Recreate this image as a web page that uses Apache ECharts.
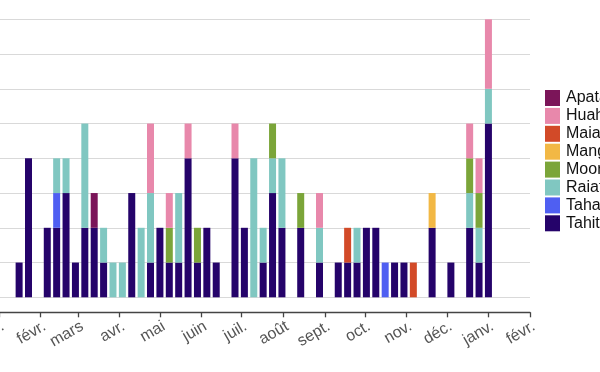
<!DOCTYPE html>
<html>
<head>
<meta charset="utf-8">
<script src="https://cdn.jsdelivr.net/npm/echarts@6/dist/echarts.min.js"></script>
<style>html,body{margin:0;padding:0;background:#fff}#c{width:600px;height:372px}</style>
</head>
<body>
<div id="c"></div>
<script>
const weeks = ['2017-01-16','2017-01-23','2017-01-30','2017-02-06','2017-02-13','2017-02-20','2017-02-27',
'2017-03-06','2017-03-13','2017-03-20','2017-03-27','2017-04-03','2017-04-10','2017-04-17','2017-04-24',
'2017-05-01','2017-05-08','2017-05-15','2017-05-22','2017-05-29','2017-06-05','2017-06-12','2017-06-19','2017-06-26',
'2017-07-03','2017-07-10','2017-07-17','2017-07-24','2017-07-31','2017-08-07','2017-08-14','2017-08-21','2017-08-28',
'2017-09-04','2017-09-11','2017-09-18','2017-09-25','2017-10-02','2017-10-09','2017-10-16','2017-10-23','2017-10-30',
'2017-11-06','2017-11-13','2017-11-20','2017-11-27','2017-12-04','2017-12-11','2017-12-18','2017-12-25','2018-01-01'];

const tahiti    = [1,4,0,2,2,3,1,2,2,1,0,0,3,0,1,2,1,1,4,1,2,1,0,4,2,0,1,3,2,0,2,0,1,0,1,1,1,2,2,0,1,1,0,0,2,0,1,0,2,1,5];
const tahaa     = [0,0,0,0,1,0,0,0,0,0,0,0,0,0,0,0,0,0,0,0,0,0,0,0,0,0,0,0,0,0,0,0,0,0,0,0,0,0,0,1,0,0,0,0,0,0,0,0,0,0,0];
const raiatea   = [0,0,0,0,1,1,0,3,0,1,1,1,0,2,2,0,0,2,0,0,0,0,0,0,0,4,1,1,2,0,0,0,1,0,0,0,1,0,0,0,0,0,0,0,0,0,0,0,1,1,1];
const moorea    = [0,0,0,0,0,0,0,0,0,0,0,0,0,0,0,0,1,0,0,1,0,0,0,0,0,0,0,1,0,0,1,0,0,0,0,0,0,0,0,0,0,0,0,0,0,0,0,0,1,1,0];
const mangareva = [0,0,0,0,0,0,0,0,0,0,0,0,0,0,0,0,0,0,0,0,0,0,0,0,0,0,0,0,0,0,0,0,0,0,0,0,0,0,0,0,0,0,0,0,1,0,0,0,0,0,0];
const maiao     = [0,0,0,0,0,0,0,0,0,0,0,0,0,0,0,0,0,0,0,0,0,0,0,0,0,0,0,0,0,0,0,0,0,0,0,1,0,0,0,0,0,0,1,0,0,0,0,0,0,0,0];
const huahine   = [0,0,0,0,0,0,0,0,0,0,0,0,0,0,2,0,1,0,1,0,0,0,0,1,0,0,0,0,0,0,0,0,1,0,0,0,0,0,0,0,0,0,0,0,0,0,0,0,1,1,2];
const apataki   = [0,0,0,0,0,0,0,0,1,0,0,0,0,0,0,0,0,0,0,0,0,0,0,0,0,0,0,0,0,0,0,0,0,0,0,0,0,0,0,0,0,0,0,0,0,0,0,0,0,0,0];

const monthTicks  = ['2017-01-01','2017-02-01','2017-03-01','2017-04-01','2017-05-01','2017-06-01','2017-07-01',
'2017-08-01','2017-09-01','2017-10-01','2017-11-01','2017-12-01','2018-01-01','2018-02-01'];
const monthLabels = ['janv.','févr.','mars','avr.','mai','juin','juil.','août','sept.','oct.','nov.','déc.','janv.','févr.'];

const DAY = 86400000;
const ts = s => { const p = s.split('-').map(Number); return Date.UTC(p[0], p[1]-1, p[2]); };
const origin = ts(monthTicks[0]);
const dayOf = s => Math.round((ts(s) - origin) / DAY);
const tickDays = monthTicks.map(dayOf);

const seriesDefs = [
  ['Tahiti', tahiti, '#25036a'],
  ['Tahaa', tahaa, '#4f5ff2'],
  ['Raiatea', raiatea, '#80c7c1'],
  ['Moorea', moorea, '#7ba539'],
  ['Mangareva', mangareva, '#f2b845'],
  ['Maiao', maiao, '#d24a28'],
  ['Huahine', huahine, '#e888ab'],
  ['Apataki', apataki, '#7b1559']
];

const BAR_W = 7;
const chart = echarts.init(document.getElementById('c'), null, {renderer: 'canvas'});
chart.setOption({
  animation: false,
  backgroundColor: '#fff',
  grid: [
    // bar grid: ECharts widens a time axis by half a bar on each side, so this grid is wider by that amount
    {left: -1 - BAR_W / 2, right: 70 - BAR_W / 2, top: 19.3, bottom: 74.7, containLabel: false, outerBoundsMode: 'none'},
    // axis / gridline grid
    {left: -1, right: 70, top: 19.3, bottom: 74.7, containLabel: false, outerBoundsMode: 'none'}
  ],
  legend: {
    orient: 'vertical', left: 545, top: 90, padding: 0,
    itemWidth: 15, itemHeight: 16, itemGap: 1.9,
    icon: 'rect',
    data: ['Apataki','Huahine','Maiao','Mangareva','Moorea','Raiatea','Tahaa','Tahiti'],
    textStyle: {fontFamily: 'Liberation Sans', fontSize: 16, color: '#111', lineHeight: 16, padding: [0,0,0,1]}
  },
  xAxis: [{
    gridIndex: 0, type: 'time',
    min: ts(monthTicks[0]), max: ts(monthTicks[monthTicks.length - 1]),
    show: false
  }, {
    gridIndex: 1, type: 'value',
    min: tickDays[0], max: tickDays[tickDays.length - 1],
    offset: 15,
    axisLine: {show: true, onZero: false, lineStyle: {color: '#444', width: 1.3}},
    axisTick: {show: true, customValues: tickDays, length: 5, lineStyle: {color: '#444', width: 1.3}},
    axisLabel: {
      customValues: tickDays, rotate: 30, hideOverlap: false, verticalAlign: 'top',
      fontFamily: 'Liberation Sans', fontSize: 16, color: '#555', margin: 6,
      formatter: v => { const i = tickDays.indexOf(Math.round(v)); return i >= 0 ? monthLabels[i] : ''; }
    },
    splitLine: {show: false}
  }],
  yAxis: [{
    gridIndex: 0, type: 'value', min: 0, max: 8, interval: 1, show: false, splitLine: {show: false}
  }, {
    gridIndex: 1, type: 'value', min: 0, max: 8, interval: 1,
    axisLine: {show: false}, axisTick: {show: false}, axisLabel: {show: false},
    splitLine: {show: true, lineStyle: {color: '#d9d9d9', width: 1.2}}
  }],
  series: seriesDefs.map(([name, vals, color]) => ({
    name, type: 'bar', stack: 'all', barWidth: BAR_W, xAxisIndex: 0, yAxisIndex: 0,
    itemStyle: {color},
    data: weeks.map((w, i) => [ts(w), vals[i]])
  }))
});
</script>
</body>
</html>
